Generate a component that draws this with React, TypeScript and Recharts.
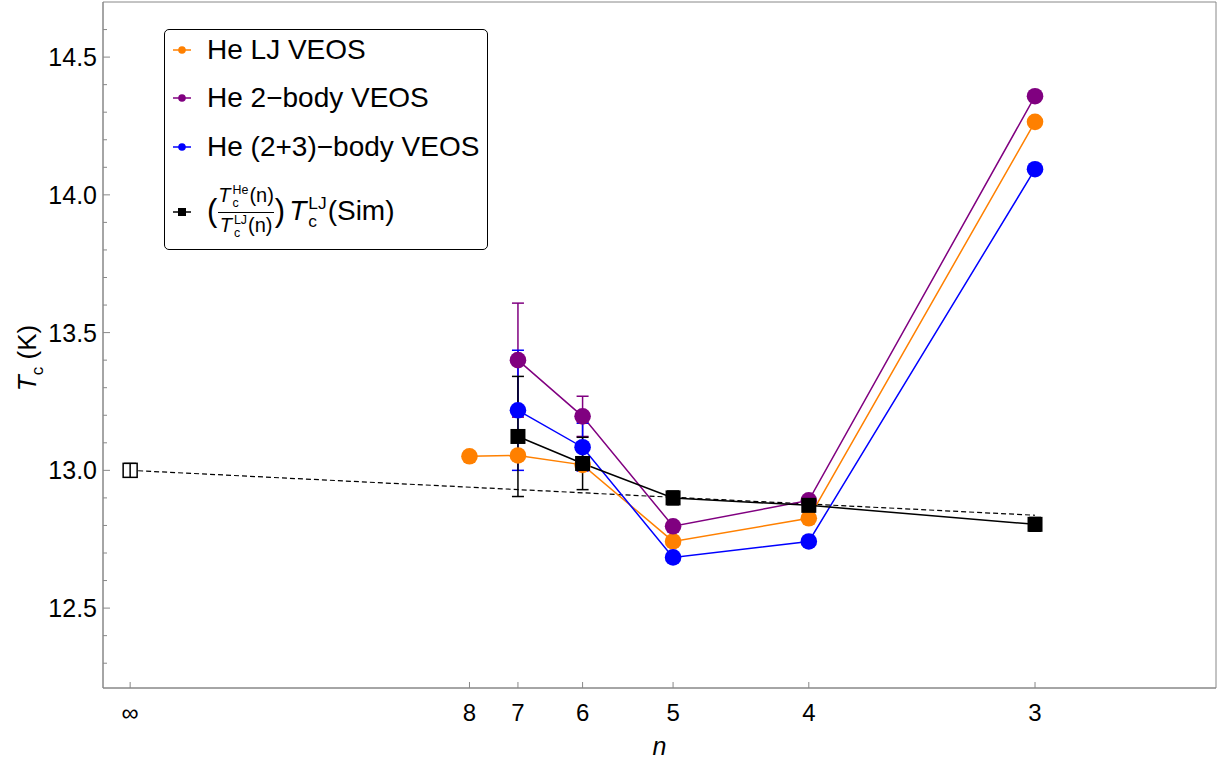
import React from 'react';
import { ComposedChart, Line, XAxis, YAxis, ErrorBar, ReferenceArea, Label } from 'recharts';

// x axis is 1/n, n = Infinity maps to 0
const nTicks = [Infinity, 8, 7, 6, 5, 4, 3];
const nTickLabels = ['∞', '8', '7', '6', '5', '4', '3'];
const yTicks = [12.3, 12.4, 12.5, 12.6, 12.7, 12.8, 12.9, 13.0, 13.1, 13.2, 13.3, 13.4, 13.5, 13.6, 13.7, 13.8, 13.9, 14.0, 14.1, 14.2, 14.3, 14.4, 14.5, 14.6];
const yMajor = [12.5, 13.0, 13.5, 14.0, 14.5];

const heLjN = [8, 7, 6, 5, 4, 3];
const heLjTc = [13.051, 13.054, 13.02, 12.742, 12.826, 14.265];

const he2N = [7, 6, 5, 4, 3];
const he2Tc = [13.4, 13.196, 12.797, 12.891, 14.358];
const he2Err = [0.207, 0.073, 0, 0, 0];

const he23N = [7, 6, 5, 4, 3];
const he23Tc = [13.218, 13.084, 12.684, 12.742, 14.093];
const he23Err = [0.218, 0.087, 0, 0, 0];

const simN = [7, 6, 5, 4, 3];
const simTc = [13.123, 13.025, 12.9, 12.873, 12.804];
const simErr = [0.218, 0.095, 0.025, 0.025, 0.025];

const ljInfN = [Infinity];
const ljInfTc = [13.0];
const ljInfErr = [0.025];

const fitN = [Infinity, 3];
const fitTc = [13.0, 12.837];

const ORANGE = '#FF8000';
const PURPLE = '#800080';
const BLUE = '#0000FF';
const AXIS = '#888888';
const FONT = '"Liberation Sans", Arial, sans-serif';

const X_DOMAIN = [-0.01, 0.4];
const Y_DOMAIN = [12.21, 14.7];

const inv = (n: number) => (n === Infinity ? 0 : 1 / n);
const rows = (ns: number[], ys: number[], errs?: number[]) =>
    ns.map((n, i) => ({ x: inv(n), y: ys[i], err: errs ? errs[i] : 0 }));

const heLjData = rows(heLjN, heLjTc);
const he2Data = rows(he2N, he2Tc, he2Err);
const he23Data = rows(he23N, he23Tc, he23Err);
const simData = rows(simN, simTc, simErr);
const ljInfData = rows(ljInfN, ljInfTc, ljInfErr);
const fitData = rows(fitN, fitTc);
const xTicks = nTicks.map(inv);

const circleDot = (color: string) => (props: any) => {
    const { cx, cy, index } = props;
    if (cx == null || cy == null) return <g key={index} />;
    return <circle key={index} cx={cx} cy={cy} r={8.3} fill={color} />;
};

const squareDot = (props: any) => {
    const { cx, cy, index } = props;
    if (cx == null || cy == null) return <g key={index} />;
    return <rect key={index} x={cx - 7.5} y={cy - 7.5} width={15} height={15} fill="#000" />;
};

const openSquareDot = (props: any) => {
    const { cx, cy, index } = props;
    if (cx == null || cy == null) return <g key={index} />;
    return (
        <g key={index}>
            <rect x={cx - 7} y={cy - 7} width={14} height={14} fill="#fff" stroke="#000" strokeWidth={1.5} />
            <line x1={cx} x2={cx} y1={cy - 7} y2={cy + 7} stroke="#000" strokeWidth={1.5} />
        </g>
    );
};

const XTick = (props: any) => {
    const { x, y, index } = props;
    return (
        <g>
            <line x1={x} x2={x} y1={y} y2={y - 6} stroke={AXIS} />
            <text x={x} y={y + 33} textAnchor="middle" fontSize={24} fontFamily={FONT} fill="#000">
                {nTickLabels[index]}
            </text>
        </g>
    );
};

const YTick = (props: any) => {
    const { x, y, payload } = props;
    const v = Math.round(payload.value * 10) / 10;
    const major = yMajor.includes(v);
    return (
        <g>
            <line x1={x} x2={x + (major ? 7 : 4)} y1={y} y2={y} stroke={AXIS} />
            {major && (
                <text x={x - 6} y={y} dy="0.36em" textAnchor="end" fontSize={25} fontFamily={FONT} fill="#000">
                    {v.toFixed(1)}
                </text>
            )}
        </g>
    );
};

// stacked superscript over subscript, as in T_c^He
const SubSup = ({ sub, sup }: { sub: string; sup: string }) => (
    <span style={{ display: 'inline-flex', flexDirection: 'column', fontSize: '0.62em', lineHeight: 1.05, verticalAlign: 'middle', marginLeft: 2, marginRight: 1 }}>
        <span>{sup}</span>
        <span>{sub}</span>
    </span>
);

const LegendIcon = ({ color, square }: { color: string; square?: boolean }) => (
    <svg width={36} height={14} style={{ marginRight: 6 }}>
        <line x1={8} x2={26} y1={7} y2={7} stroke={color} strokeWidth={1.5} />
        {square ? <rect x={13} y={3} width={8} height={8} fill={color} /> : <circle cx={17} cy={7} r={3.8} fill={color} />}
    </svg>
);

const legendRow = (top: number): React.CSSProperties => ({
    position: 'absolute',
    left: 0,
    top,
    height: 32,
    display: 'flex',
    alignItems: 'center',
    whiteSpace: 'nowrap',
});

export default function App() {
    return (
        <div style={{ position: 'absolute', left: 0, top: 0, width: 1224, height: 765, background: '#fff', fontFamily: FONT }}>
            <ComposedChart width={1224} height={765} margin={{ top: 2, right: 8, left: 0, bottom: 0 }}>
                <XAxis
                    type="number"
                    dataKey="x"
                    domain={X_DOMAIN}
                    ticks={xTicks}
                    interval={0}
                    allowDataOverflow
                    height={77}
                    stroke={AXIS}
                    tickLine={false}
                    tickSize={0}
                    tickMargin={0}
                    tick={<XTick />}
                >
                    <Label value="n" position="insideBottom" offset={10} style={{ fontSize: 25, fontStyle: 'italic', fontFamily: FONT, fill: '#000' }} />
                </XAxis>
                <YAxis
                    type="number"
                    dataKey="y"
                    domain={Y_DOMAIN}
                    ticks={yTicks}
                    interval={0}
                    allowDataOverflow
                    width={103}
                    stroke={AXIS}
                    tickLine={false}
                    tickSize={0}
                    tickMargin={0}
                    tick={<YTick />}
                />
                <ReferenceArea x1={X_DOMAIN[0]} x2={X_DOMAIN[1]} y1={Y_DOMAIN[0]} y2={Y_DOMAIN[1]} fill="none" stroke={AXIS} strokeWidth={1} />

                <Line data={fitData} dataKey="y" type="linear" stroke="#000" strokeWidth={1.2} strokeDasharray="5 3" dot={false} activeDot={false} isAnimationActive={false} />
                <Line data={heLjData} dataKey="y" type="linear" stroke={ORANGE} strokeWidth={1.5} dot={circleDot(ORANGE)} activeDot={false} isAnimationActive={false} />
                <Line data={he2Data} dataKey="y" type="linear" stroke={PURPLE} strokeWidth={1.5} dot={circleDot(PURPLE)} activeDot={false} isAnimationActive={false}>
                    <ErrorBar dataKey="err" direction="y" stroke={PURPLE} strokeWidth={1.5} width={6} />
                </Line>
                <Line data={he23Data} dataKey="y" type="linear" stroke={BLUE} strokeWidth={1.5} dot={circleDot(BLUE)} activeDot={false} isAnimationActive={false}>
                    <ErrorBar dataKey="err" direction="y" stroke={BLUE} strokeWidth={1.5} width={6} />
                </Line>
                <Line data={simData} dataKey="y" type="linear" stroke="#000" strokeWidth={1.5} dot={squareDot} activeDot={false} isAnimationActive={false}>
                    <ErrorBar dataKey="err" direction="y" stroke="#000" strokeWidth={1.5} width={6} />
                </Line>
                <Line data={ljInfData} dataKey="y" type="linear" stroke="#000" strokeWidth={1.5} dot={openSquareDot} activeDot={false} isAnimationActive={false}>
                    <ErrorBar dataKey="err" direction="y" stroke="#000" strokeWidth={1.5} width={6} />
                </Line>
            </ComposedChart>

            {/* y axis title */}
            <div style={{ position: 'absolute', left: 30, top: 358, transform: 'translate(-50%, -50%) rotate(-90deg)', fontSize: 26, whiteSpace: 'nowrap', color: '#000' }}>
                <i>T</i><sub style={{ fontSize: 17 }}>c</sub> (K)
            </div>

            {/* legend */}
            <div style={{ position: 'absolute', left: 164, top: 29, width: 322, height: 219, border: '1px solid #000', borderRadius: 5, background: '#fff', fontSize: 28, color: '#000' }}>
                <div style={legendRow(4)}><LegendIcon color={ORANGE} />He LJ VEOS</div>
                <div style={legendRow(52)}><LegendIcon color={PURPLE} />He 2−body VEOS</div>
                <div style={legendRow(101)}><LegendIcon color={BLUE} />He (2+3)−body VEOS</div>
                <div style={{ ...legendRow(154), height: 56 }}>
                    <LegendIcon color="#000" square />
                    <span style={{ fontSize: 31, marginTop: -2 }}>(</span>
                    <span style={{ display: 'inline-flex', flexDirection: 'column', alignItems: 'center', fontSize: 20, lineHeight: 1.05, margin: '0 1px' }}>
                        <span style={{ borderBottom: '1px solid #000', paddingBottom: 1 }}>
                            <i>T</i><SubSup sub="c" sup="He" />(n)
                        </span>
                        <span style={{ paddingTop: 1 }}>
                            <i>T</i><SubSup sub="c" sup="LJ" />(n)
                        </span>
                    </span>
                    <span style={{ fontSize: 31, marginTop: -2 }}>)</span>
                    <span style={{ marginLeft: 4 }}>
                        <i>T</i><SubSup sub="c" sup="LJ" />(Sim)
                    </span>
                </div>
            </div>
        </div>
    );
}
